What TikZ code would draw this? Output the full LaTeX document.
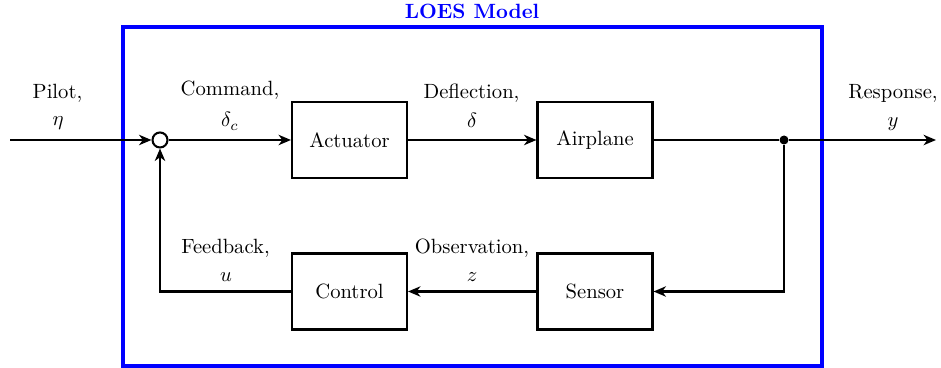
\documentclass[tikz,border=0pt]{standalone}
\usetikzlibrary{arrows.meta}
\begin{document}
\begin{tikzpicture}[x=0.485pt,y=-0.485pt,
  blockbox/.style={draw,line width=1pt,minimum width=115*0.485pt,minimum height=76*0.485pt,inner sep=0pt},
  sig/.style={line width=1pt,-{Stealth[length=6pt,width=5pt,inset=1.8pt]}},
  wire/.style={line width=1pt},
  lbl/.style={anchor=base,inner sep=0pt}]
\useasboundingbox (0,0) rectangle (941,368);
% blue frame
\draw[blue,line width=1.6pt] (123,27) rectangle (822,366);
\node[lbl,text=blue,font=\bfseries] (title) at (472,19) {LOES Model};
% blocks
\node[blockbox] (act) at (349.5,140) {Actuator};
\node[blockbox] (air) at (595,140) {Airplane};
\node[blockbox] (ctl) at (349.5,291.5) {Control};
\node[blockbox] (sen) at (595,291.5) {Sensor};
% summing junction and branch point
\node[circle,draw,line width=1pt,minimum size=15*0.485pt,inner sep=0pt] (sum) at (160,140) {};
\node[circle,fill,minimum size=9*0.485pt,inner sep=0pt] (br) at (784,140) {};
\coordinate (in) at (10,140);
\coordinate (out) at (936,140);
\coordinate (fbr) at (784,291.5);
\coordinate (fbl) at (160,291.5);
% connections
\draw[sig] (in) -- (sum);
\draw[sig] (sum) -- (act);
\draw[sig] (act) -- (air);
\draw[wire] (air) -- (br);
\draw[sig] (br) -- (out);
\draw[sig] (br) -- (fbr) -- (sen);
\draw[sig] (sen) -- (ctl);
\draw[sig] (ctl) -- (fbl) -- (sum);
% labels
\node[lbl] (l1a) at (57.5,99) {Pilot,};
\node[lbl] (l1b) at (58,126) {$\eta$};
\node[lbl] (l2a) at (230,96) {Command,};
\node[lbl] (l2b) at (230,127) {$\delta_c$};
\node[lbl] (l3a) at (471.5,99) {Deflection,};
\node[lbl] (l3b) at (472,128) {$\delta$};
\node[lbl] (l4a) at (893,99) {Response,};
\node[lbl] (l4b) at (893,127) {$y$};
\node[lbl] (l5a) at (225.5,254) {Feedback,};
\node[lbl] (l5b) at (226,282) {$u$};
\node[lbl] (l6a) at (472,254) {Observation,};
\node[lbl] (l6b) at (472,282) {$z$};
\end{tikzpicture}
\end{document}
